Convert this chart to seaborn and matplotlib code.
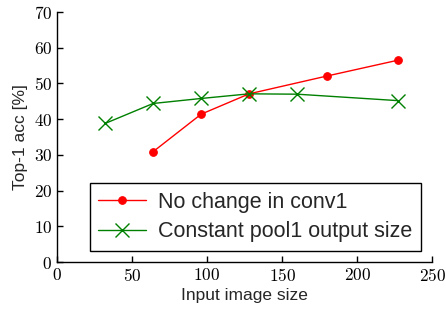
import pandas as pd
import matplotlib
matplotlib.use("Agg")
import matplotlib.pyplot as plt
import seaborn as sns
from matplotlib.ticker import FuncFormatter

# values
red_sizes = [64, 96, 128, 180, 227]
red_acc = [30.9, 41.4, 47.1, 52.1, 56.5]
green_sizes = [32, 64, 96, 128, 160, 227]
green_acc = [38.8, 44.4, 45.8, 47.1, 47.0, 45.2]
series_names = ["No change in conv1", "Constant pool1 output size"]

red_df = pd.DataFrame({"size": red_sizes, "acc": red_acc})
green_df = pd.DataFrame({"size": green_sizes, "acc": green_acc})

sns.set_style("ticks")
plt.rcParams["font.family"] = ["Liberation Sans", "DejaVu Sans"]
plt.rcParams["mathtext.fontset"] = "cm"

fig = plt.figure(figsize=(4.46, 3.09), dpi=100)
ax = fig.add_axes([0.128, 0.152, 0.841, 0.809])

sns.lineplot(data=red_df, x="size", y="acc", color="red", marker="o",
             markersize=5.5, markeredgecolor="red", linewidth=1, ax=ax,
             label=series_names[0])
sns.lineplot(data=green_df, x="size", y="acc", color="green", marker="x",
             markersize=10, markeredgewidth=1, markeredgecolor="green",
             linewidth=1, ax=ax, label=series_names[1])

ax.set_xlim(0, 250)
ax.set_ylim(0, 70)
ax.set_xticks(range(0, 251, 50))
ax.set_yticks(range(0, 71, 10))
fmt = FuncFormatter(lambda v, p: f"${int(v)}$")
ax.xaxis.set_major_formatter(fmt)
ax.yaxis.set_major_formatter(fmt)
ax.tick_params(direction="in", length=4, width=1, labelsize=12.5, colors="black")
sns.despine(ax=ax)
for s in ["left", "bottom"]:
    ax.spines[s].set_linewidth(1)
    ax.spines[s].set_color("black")

ax.set_xlabel("Input image size", fontsize=12.5, labelpad=3)
ax.set_ylabel("Top-1 acc [%]", fontsize=12.5, labelpad=4)

leg = ax.legend(
    loc="lower right", bbox_to_anchor=(0.971, 0.045), borderaxespad=0,
    fontsize=15.5, fancybox=False, framealpha=1, edgecolor="black",
    handlelength=2.2, borderpad=0.4, labelspacing=0.4, handletextpad=0.6,
)
leg.get_frame().set_linewidth(1)

fig.savefig("out.png", dpi=100)
